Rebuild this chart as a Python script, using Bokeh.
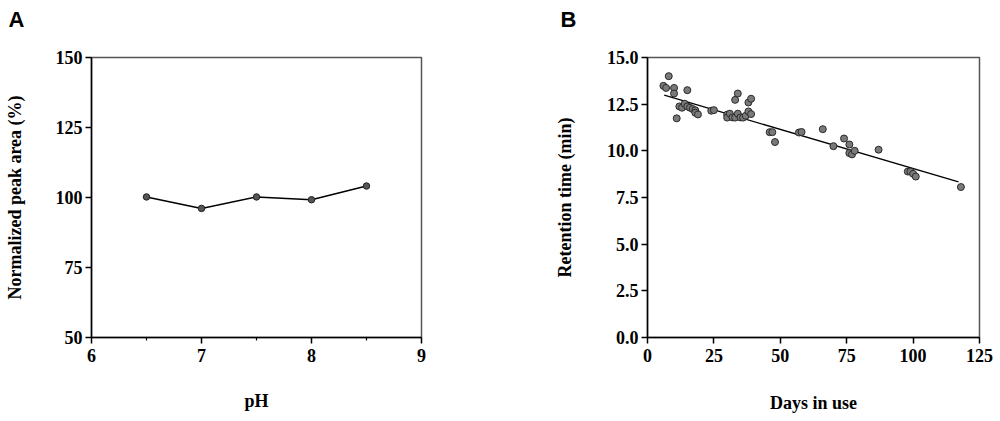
from bokeh.plotting import figure
from bokeh.layouts import row
from bokeh.models import Range1d, FixedTicker, NumeralTickFormatter
from bokeh.embed import file_html
from bokeh.resources import INLINE

# Panel A data
ph = [6.5, 7.0, 7.5, 8.0, 8.5]
peak_area = [100.2, 96.1, 100.2, 99.2, 104.1]

# Panel B data
days = [6, 7, 8, 10, 10, 11, 12, 13, 14, 15, 15, 16, 17, 18, 18, 19, 24, 25,
        30, 30, 31, 32, 33, 33, 34, 34, 35, 36, 37, 38, 38, 39, 39,
        46, 47, 48, 57, 58, 66, 70, 74, 76, 76, 77, 78, 87,
        98, 99, 100, 101, 118]
rt = [13.48, 13.37, 14.0, 13.37, 13.07, 11.74, 12.38, 12.31, 12.52, 13.25, 12.38,
      12.31, 12.24, 12.17, 12.04, 11.95, 12.15, 12.18,
      11.94, 11.78, 11.99, 11.79, 11.78, 12.73, 13.07, 11.99, 11.79, 11.78, 11.88,
      12.59, 12.11, 12.79, 11.97,
      11.0, 11.0, 10.47, 10.98, 11.01, 11.16, 10.25, 10.66, 10.34, 9.88, 9.81, 10.0,
      10.06, 8.89, 8.89, 8.77, 8.62, 8.06]
fit_days = [6.3, 117.1]
fit_rt = [12.98, 8.34]

# Ticks
a_xticks = [6, 7, 8, 9]
a_xminor = [6.5, 7.5, 8.5]
a_yticks = [50, 75, 100, 125, 150]
b_xticks = [0, 25, 50, 75, 100, 125]
b_yticks = [0, 2.5, 5, 7.5, 10, 12.5, 15]

SERIF = "Liberation Serif"
SANS = "Liberation Sans"
FRAME_W_A, FRAME_W_B, FRAME_H = 330, 332, 280
TOP, BOTTOM = 57, 84


def style(p, xlabel, ylabel, xticks, yticks, xlab_standoff, ylab_standoff, xminor=None):
    p.grid.visible = False
    p.outline_line_color = "#555555"
    p.outline_line_width = 1.5
    p.background_fill_color = "white"
    p.border_fill_color = "white"
    p.xaxis.ticker = FixedTicker(ticks=xticks, minor_ticks=xminor or [])
    p.yaxis.ticker = FixedTicker(ticks=yticks, minor_ticks=[])
    for ax in (p.xaxis[0], p.yaxis[0]):
        ax.axis_line_color = "black"
        ax.axis_line_width = 1.5
        ax.major_tick_line_color = "black"
        ax.major_tick_line_width = 1.5
        ax.major_tick_out = 6
        ax.major_tick_in = 0
        ax.minor_tick_line_color = "black"
        ax.minor_tick_line_width = 1.2
        ax.minor_tick_out = 3
        ax.minor_tick_in = 0
        ax.major_label_text_font = SERIF
        ax.major_label_text_font_style = "bold"
        ax.major_label_text_font_size = "18px"
        ax.major_label_text_color = "black"
        ax.axis_label_text_font = SERIF
        ax.axis_label_text_font_style = "bold"
        ax.axis_label_text_font_size = "18px"
        ax.axis_label_text_color = "black"
    p.yaxis.minor_tick_line_color = None
    p.xaxis.major_label_standoff = 5
    p.yaxis.major_label_standoff = 3
    p.xaxis.axis_label = xlabel
    p.yaxis.axis_label = ylabel
    p.xaxis.axis_label_standoff = xlab_standoff
    p.yaxis.axis_label_standoff = ylab_standoff


def panel_title(p, text, left_px):
    # second (empty) line lifts the letter towards the top of the page
    p.title.text = text + "\n "
    p.title.text_font = SANS
    p.title.text_font_style = "bold"
    p.title.text_font_size = "22px"
    p.title.text_color = "black"
    p.title.align = "left"
    p.title.offset = -left_px
    p.title.standoff = 2


pa = figure(width=540, height=TOP + FRAME_H + BOTTOM, output_backend="svg",
            toolbar_location=None,
            x_range=Range1d(6, 9), y_range=Range1d(50, 150),
            min_border_left=91, min_border_right=540 - 91 - FRAME_W_A,
            min_border_top=TOP, min_border_bottom=BOTTOM)
style(pa, "pH", "Normalized peak area (%)", a_xticks, a_yticks, 26, 28, a_xminor)
pa.line(ph, peak_area, line_color="black", line_width=1.5)
pa.scatter(ph, peak_area, size=6.5, fill_color="#555555", line_color="#222222",
           line_width=1)
panel_title(pa, "A", 83)

pb = figure(width=460, height=TOP + FRAME_H + BOTTOM, output_backend="svg",
            toolbar_location=None,
            x_range=Range1d(0, 125), y_range=Range1d(0, 15),
            min_border_left=107, min_border_right=460 - 107 - FRAME_W_B,
            min_border_top=TOP, min_border_bottom=BOTTOM)
style(pb, "Days in use", "Retention time (min)", b_xticks, b_yticks, 28, 29)
pb.yaxis.formatter = NumeralTickFormatter(format="0.0")
pb.line(fit_days, fit_rt, line_color="black", line_width=1.3)
pb.scatter(days, rt, size=7, fill_color="#7a7a7a", line_color="#2a2a2a",
           line_width=1)
panel_title(pb, "B", 87)

layout = row(pa, pb, spacing=0)
open("out.html", "w").write(file_html(layout, INLINE))
